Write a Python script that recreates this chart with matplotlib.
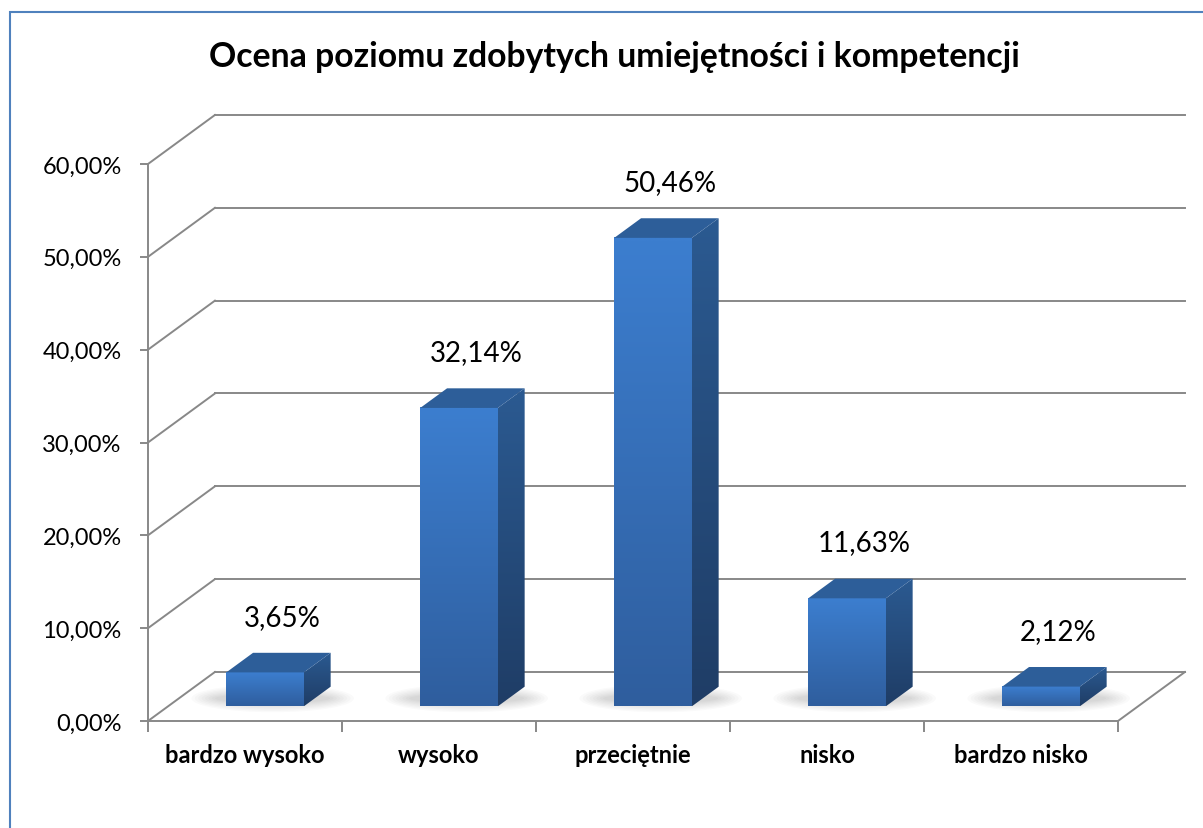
import numpy as np
import matplotlib
matplotlib.use("Agg")
import matplotlib.pyplot as plt
from matplotlib.patches import Polygon, Rectangle, Ellipse
from matplotlib.ticker import FuncFormatter, FixedLocator

plt.rcParams['font.family'] = ['Lato', 'DejaVu Sans']

# ---- data ----
title = "Ocena poziomu zdobytych umiejętności i kompetencji"
categories = ["bardzo wysoko", "wysoko", "przeciętnie", "nisko", "bardzo nisko"]
values = [3.65, 32.14, 50.46, 11.63, 2.12]
y_ticks = [0, 10, 20, 30, 40, 50, 60]

# ---- style / geometry ----
DEPTH_X = 0.345   # category units for full depth
DEPTH_Y = 5.28    # percent units for full depth
BAR_W = 0.4
BAR_D0, BAR_D1 = 0.3, 0.7
GRID_C = "#888888"
LW = 1.4

W, H = 1203, 829
fig = plt.figure(figsize=(W / 100, H / 100), dpi=100)
ax = fig.add_axes([148 / W, 1 - 722 / H, (1118 - 148) / W, (722 - 165) / H])
n = len(categories)
ax.set_xlim(0, n)
ax.set_ylim(0, 60)

# frame border
fig.patches.append(Rectangle((10 / W, -0.1), 1.2, 1 - 13 / H + 0.1,
                             transform=fig.transFigure, fill=False,
                             edgecolor="#4f81bd", lw=1.5))

# spines
for s in ["top", "right"]:
    ax.spines[s].set_visible(False)
for s in ["left", "bottom"]:
    ax.spines[s].set_color(GRID_C)
    ax.spines[s].set_linewidth(LW)

# walls / gridlines
for v in y_ticks:
    ax.plot([0, DEPTH_X], [v, v + DEPTH_Y], color=GRID_C, lw=LW, clip_on=False, zorder=1)
    ax.plot([DEPTH_X, n + DEPTH_X], [v + DEPTH_Y, v + DEPTH_Y], color=GRID_C, lw=LW,
            clip_on=False, zorder=1)
ax.plot([n, n + DEPTH_X], [0, DEPTH_Y], color=GRID_C, lw=LW, clip_on=False, zorder=1)

# ticks
ax.yaxis.set_major_locator(FixedLocator(y_ticks))
ax.yaxis.set_major_formatter(FuncFormatter(lambda v, p: f"{v:.2f}".replace(".", ",") + "%"))
ax.tick_params(axis="y", direction="out", length=6, width=LW, color=GRID_C,
               labelsize=17, pad=13, labelcolor="black")
ax.set_xticks(np.arange(n) + 0.5)
ax.set_xticklabels(categories, fontsize=17, fontweight="bold")
ax.set_xticks(np.arange(n + 1), minor=True)
ax.tick_params(axis="x", which="major", length=0, pad=16)
ax.tick_params(axis="x", which="minor", direction="out", length=8, width=LW, color=GRID_C)


def grad(c_top, c_bot, n_=64):
    t = np.linspace(0, 1, n_)[:, None]
    a = np.array(matplotlib.colors.to_rgb(c_bot))
    b = np.array(matplotlib.colors.to_rgb(c_top))
    return (a + (b - a) * t)[:, None, :]


front_g = grad("#3c7ecf", "#2f5e9e")
side_g = grad("#2b5a91", "#1f3d66")
top_c = "#2d5e99"

for i, v in enumerate(values):
    xl = i + 0.5 - BAR_W / 2 + BAR_D0 * DEPTH_X
    xr = xl + BAR_W
    yb = BAR_D0 * DEPTH_Y
    yt = v + yb
    d = (BAR_D1 - BAR_D0) * DEPTH_X
    e = (BAR_D1 - BAR_D0) * DEPTH_Y
    # soft shadow
    for k in range(8):
        ax.add_patch(Ellipse((xl + BAR_W / 2 + d / 2 - 0.03, yb + e / 2 - 0.2),
                             BAR_W + d + 0.3 - k * 0.035, 3.0 - k * 0.28,
                             facecolor="black", alpha=0.02, lw=0, zorder=2, clip_on=False))
    # front face
    ax.imshow(front_g, extent=(xl, xr, yb, yt), origin="lower", aspect="auto",
              zorder=3, clip_on=False, interpolation="bilinear")
    # side face
    side = Polygon([(xr, yb), (xr + d, yb + e), (xr + d, yt + e), (xr, yt)], closed=True,
                   facecolor="none", edgecolor="none", transform=ax.transData)
    ax.add_patch(side)
    im = ax.imshow(side_g, extent=(xr, xr + d, yb, yt + e), origin="lower", aspect="auto",
                   zorder=3, interpolation="bilinear")
    im.set_clip_path(side)
    # top face
    ax.add_patch(Polygon([(xl, yt), (xr, yt), (xr + d, yt + e), (xl + d, yt + e)], closed=True,
                         facecolor=top_c, edgecolor="none", zorder=4, clip_on=False))
    # label
    ax.text(i + 0.5 + 0.5 * DEPTH_X + 0.02, v + 7.6, f"{v:.2f}".replace(".", ",") + "%",
            ha="center", va="center", fontsize=20, zorder=5, clip_on=False)

ax.set_xlim(0, n)
ax.set_ylim(0, 60)
fig.text(614 / W, 1 - 57 / H, title, ha="center", va="center", fontsize=24.3, fontweight="bold")

fig.savefig("out.png", dpi=100)
